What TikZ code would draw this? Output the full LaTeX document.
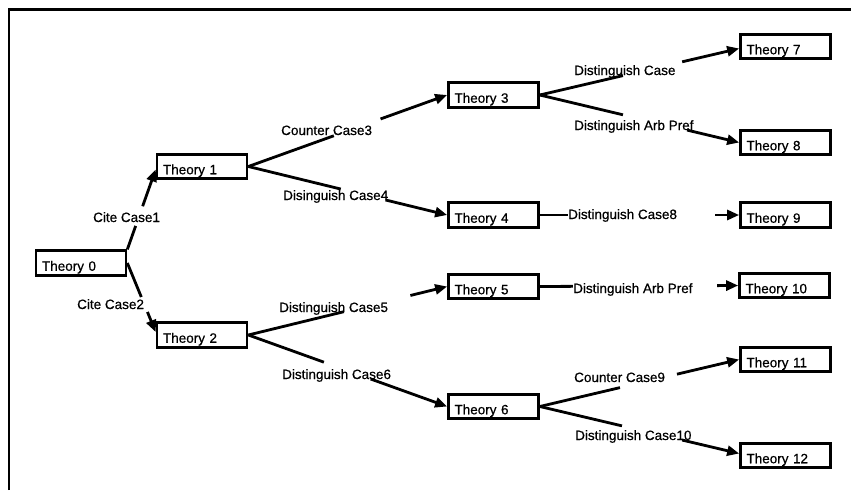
\documentclass[tikz,border=0pt]{standalone}
\usepackage{fontspec}
\setmainfont{Liberation Sans}
\newfontfamily\diagfont{Liberation Sans}[FakeBold=0.6]
\usetikzlibrary{arrows.meta,calc}

% a connector that is interrupted where its case label sits:
% #1 start, #2 end, #3/#4 fractions where the gap begins and ends
\newcommand{\brokenlink}[4]{%
  \draw[link] (#1) -- ($(#1)!#3!(#2)$);
  \draw[link,-{Triangle[length=12pt,width=10pt]}] ($(#1)!#4!(#2)$) -- (#2);%
}

\begin{document}
\begin{tikzpicture}[x=1pt,y=-1pt,
  theory/.style={draw, line width=2.7pt, rectangle, inner xsep=6pt, inner ysep=0pt,
    text width=78pt, align=left, text height=20pt, text depth=4.5pt,
    font=\diagfont\fontsize{13.5}{16}\selectfont},
  caselabel/.style={inner sep=0pt, anchor=base west, font=\diagfont\fontsize{13.5}{16}\selectfont},
  link/.style={line width=2.8pt}
]
\useasboundingbox (0,0) rectangle (851,490);

% frame
\draw[line width=2.6pt] (9,490) -- (9,9.5) -- (851,9.5);

% theories
\node[theory] (T0)  at (81,263)     {Theory 0};
\node[theory] (T1)  at (202,166.5)  {Theory 1};
\node[theory] (T2)  at (202,335)    {Theory 2};
\node[theory] (T3)  at (493.5,95)   {Theory 3};
\node[theory] (T4)  at (493.5,215)  {Theory 4};
\node[theory] (T5)  at (493.5,286.5){Theory 5};
\node[theory] (T6)  at (493.5,406.5){Theory 6};
\node[theory] (T7)  at (785.5,46.5) {Theory 7};
\node[theory] (T8)  at (785.5,142.5){Theory 8};
\node[theory] (T9)  at (785.5,215)  {Theory 9};
\node[theory] (T10) at (784.5,285.5){Theory 10};
\node[theory] (T11) at (785.5,359.5){Theory 11};
\node[theory] (T12) at (785.5,455.5){Theory 12};

% case labels
\node[caselabel] (L1)  at (93,222)  {Cite Case1};
\node[caselabel] (L2)  at (77,309)  {Cite Case2};
\node[caselabel] (L3)  at (281,135) {Counter Case3};
\node[caselabel] (L4)  at (283,200) {Disinguish Case4};
\node[caselabel] (L5)  at (279,312) {Distinguish Case5};
\node[caselabel] (L6)  at (282,379) {Distinguish Case6};
\node[caselabel] (L7)  at (574,75)  {Distinguish Case};
\node[caselabel] (L8)  at (574,130) {Distinguish Arb Pref};
\node[caselabel] (L9)  at (568,219) {Distinguish Case8};
\node[caselabel] (L10) at (573,293) {Distinguish Arb Pref};
\node[caselabel] (L11) at (574,382) {Counter Case9};
\node[caselabel] (L12) at (575,440) {Distinguish Case10};

% arrow entry points
\coordinate (in1)  at ([yshift=-3pt]T1.west);
\coordinate (in2)  at ([yshift=3pt]T2.west);
\coordinate (in7)  at ([yshift=-2pt]T7.west);
\coordinate (in12) at ([yshift=2pt]T12.west);

% connectors
\brokenlink{T0.north east}{in1}{0.294}{0.54}
\brokenlink{T0.east}{in2}{0.493}{0.71}
\brokenlink{T1.east}{T3.west}{0.43}{0.665}
\brokenlink{T1.east}{T4.west}{0.465}{0.69}
\brokenlink{T2.east}{T5.west}{0.48}{0.815}
\brokenlink{T2.east}{T6.west}{0.38}{0.615}
\brokenlink{T3.east}{in7}{0.417}{0.714}
\brokenlink{T3.east}{T8.west}{0.417}{0.739}
\brokenlink{T4.east}{T9.west}{0.141}{0.879}
\brokenlink{T5.east}{T10.west}{0.167}{0.894}
\brokenlink{T6.east}{T11.west}{0.402}{0.688}
\brokenlink{T6.east}{in12}{0.412}{0.714}
\end{tikzpicture}
\end{document}
